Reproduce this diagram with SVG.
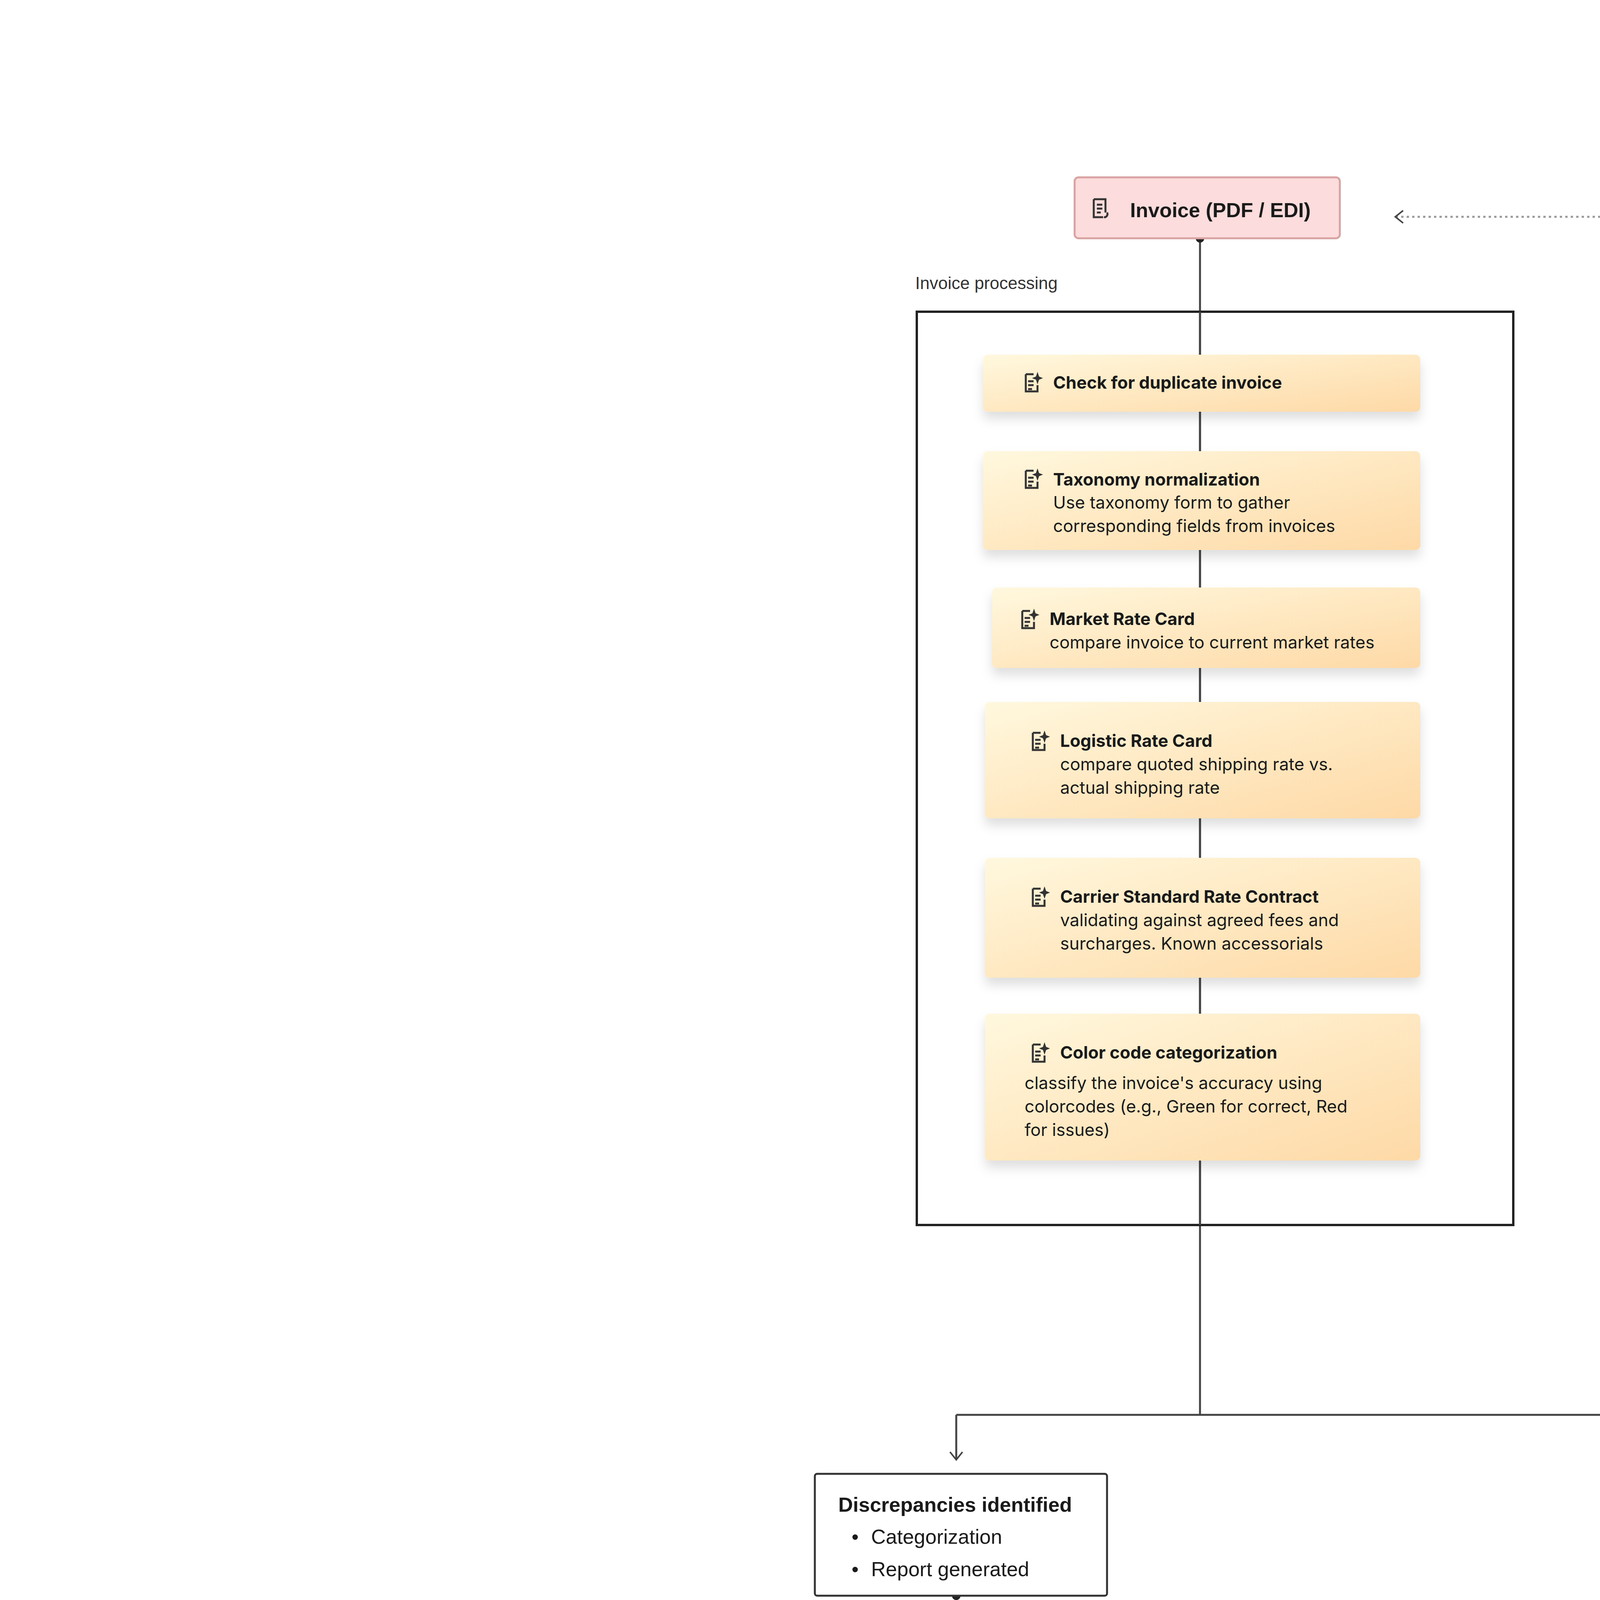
<svg xmlns="http://www.w3.org/2000/svg" width="6364" height="7184" viewBox="0 0 6364 7184">
<style>
.n{font-family:"Liberation Sans",Arial,sans-serif;font-size:52px;fill:#1a1a1a}
.c{font-family:Inter,"Liberation Sans",sans-serif;font-size:44px;fill:#1a1a1a}
.b{font-weight:bold}
.box{fill:#fff;stroke:#333;stroke-width:5}
.card{fill:url(#g);filter:url(#sh)}
.ln{fill:none;stroke:#444;stroke-width:5}
.lbl{font-family:"Liberation Sans",Arial,sans-serif;font-size:44px;fill:#333}
.ic{fill:none;stroke:#333;stroke-width:5}
</style>
<defs>
<linearGradient id="g" x1="0" y1="0" x2="1" y2="1"><stop offset="0" stop-color="#fff8de"/><stop offset="1" stop-color="#fed9a6"/></linearGradient>
<filter id="sh" x="-10%" y="-20%" width="120%" height="160%"><feDropShadow dx="0" dy="18" stdDeviation="14" flood-color="#000" flood-opacity="0.13"/></filter>
<marker id="ar" viewBox="0 0 20 20" refX="18" refY="10" markerWidth="40" markerHeight="40" markerUnits="userSpaceOnUse" orient="auto"><path d="M8 2 L18 10 L8 18" fill="none" stroke="#444" stroke-width="2"/></marker>
<marker id="dot" viewBox="0 0 10 10" refX="5" refY="5" markerWidth="22" markerHeight="22" markerUnits="userSpaceOnUse"><circle cx="5" cy="5" r="5" fill="#222"/></marker>
<g id="icon"><path class="ic" d="M0 0 h20 M0 0 v44 h30 v-16 M6 18 h14 M6 28 h14 M6 38 h10"/><path d="M30 -6 l4 12 l10 4 l-10 4 l-4 12 l-4 -12 l-10 -4 l10 -4z" fill="#333"/></g>
</defs>
<rect width="6364" height="7184" fill="#fff"/>

<g id="connectors">
<path class="ln" d="M3072 610 V3622" marker-start="url(#dot)"/>
<path class="ln" d="M2448 3622 H4484"/>
<path class="ln" d="M2448 3622 V3737" marker-end="url(#ar)"/>
<path class="ln" d="M4484 3622 V3737" marker-end="url(#ar)"/>
<path class="ln" d="M2448 4085 V4259 H1710 V4360" marker-start="url(#dot)" marker-end="url(#ar)"/>
<path class="ln" d="M2448 4259 H3246 V4360" marker-end="url(#ar)"/>
<path class="ln" d="M1710 4700 V4883" marker-start="url(#dot)" marker-end="url(#ar)"/>
<path class="ln" d="M3246 4700 V4883" marker-start="url(#dot)" marker-end="url(#ar)"/>
<path class="ln" d="M4484 4085 V4883" marker-start="url(#dot)" marker-end="url(#ar)"/>
<path class="ln" d="M1687 5176 V5360 H1371 V5442" marker-start="url(#dot)" marker-end="url(#ar)"/>
<path class="ln" d="M1742 5176 V5351 H2325 V5442" marker-start="url(#dot)" marker-end="url(#ar)"/>
<path class="ln" d="M3246 5172 V5525" marker-start="url(#dot)" marker-end="url(#ar)"/>
<path class="ln" d="M2673 5699 H2902" marker-start="url(#dot)" marker-end="url(#ar)"/>
<path class="ln" d="M3246 5855 V6034" marker-start="url(#dot)" marker-end="url(#ar)"/>
<path class="ln" d="M1371 5846 V6034" marker-start="url(#dot)" marker-end="url(#ar)"/>
<path class="ln" d="M1371 6226 V6401" marker-start="url(#dot)" marker-end="url(#ar)"/>
<path d="M3269 6465 V6625 H5846 V555 H3572" fill="none" stroke="#999" stroke-width="5" stroke-dasharray="6 8" marker-start="url(#dot)" marker-end="url(#ar)"/>
</g>

<g id="invoice-processing">
<rect x="2347" y="798" width="1527" height="2338" fill="none" stroke="#222" stroke-width="6"/>
<text class="lbl" x="2343" y="740">Invoice processing</text>
</g>
<path class="ln" d="M3072 798 V3136"/>

<g id="invoice">
<rect x="2751" y="454" width="679" height="156" rx="10" fill="#fcdcdc" stroke="#d9a3a3" stroke-width="5"/>
<path class="ic" d="M2800 510 h30 v34 M2800 510 v46 h24 M2808 524 h14 M2808 534 h14 M2808 544 h10 M2826 556 a8 8 0 0 0 8 -12"/>
<text class="n b" x="2893" y="556" font-size="56">Invoice (PDF / EDI)</text>
</g>

<g id="card1"><rect class="card" x="2517" y="908" width="1119" height="146" rx="12"/>
<use href="#icon" x="2626" y="958"/>
<text class="c b" x="2696" y="995">Check for duplicate invoice</text></g>
<g id="card2"><rect class="card" x="2517" y="1155" width="1119" height="253" rx="12"/>
<use href="#icon" x="2626" y="1205"/>
<text class="c" x="2696" y="1243"><tspan class="b">Taxonomy normalization</tspan><tspan x="2696" y="1302">Use taxonomy form to gather</tspan><tspan x="2696" y="1362">corresponding fields from invoices</tspan></text></g>
<g id="card3"><rect class="card" x="2540" y="1504" width="1096" height="206" rx="12"/>
<use href="#icon" x="2617" y="1564"/>
<text class="c" x="2687" y="1600"><tspan class="b">Market Rate Card</tspan><tspan x="2687" y="1660">compare invoice to current market rates</tspan></text></g>
<g id="card4"><rect class="card" x="2522" y="1797" width="1114" height="298" rx="12"/>
<use href="#icon" x="2644" y="1876"/>
<text class="c" x="2714" y="1912"><tspan class="b">Logistic Rate Card</tspan><tspan x="2714" y="1972">compare quoted shipping rate vs.</tspan><tspan x="2714" y="2032">actual shipping rate</tspan></text></g>
<g id="card5"><rect class="card" x="2522" y="2196" width="1114" height="307" rx="12"/>
<use href="#icon" x="2644" y="2275"/>
<text class="c" x="2714" y="2311"><tspan class="b">Carrier Standard Rate Contract</tspan><tspan x="2714" y="2371">validating against agreed fees and</tspan><tspan x="2714" y="2431">surcharges. Known accessorials</tspan></text></g>
<g id="card6"><rect class="card" x="2522" y="2595" width="1114" height="376" rx="12"/>
<use href="#icon" x="2644" y="2674"/>
<text class="c b" x="2714" y="2710">Color code categorization</text>
<text class="c" x="2623" y="2788">classify the invoice's accuracy using<tspan x="2623" y="2848">colorcodes (e.g., Green for correct, Red</tspan><tspan x="2623" y="2908">for issues)</tspan></text></g>

<g id="discrepancies"><rect class="box" x="2086" y="3773" width="748" height="312" rx="6"/>
<text class="n b" x="2146" y="3870">Discrepancies identified</text>
<text class="n" x="2180" y="3952">•</text><text class="n" x="2230" y="3952">Categorization</text>
<text class="n" x="2180" y="4035">•</text><text class="n" x="2230" y="4035">Report generated</text></g>

<g id="no-discrepancies"><rect class="box" x="4163" y="3773" width="637" height="312" rx="6"/>
<text class="n" x="4209" y="3870">No discrepancies, or<tspan x="4209" y="3952">discrepancies within</tspan><tspan x="4209" y="4035">an agreed tolerance</tspan></text></g>

<g id="unknown"><rect class="box" x="1238" y="4383" width="940" height="317" rx="6"/>
<text class="n" x="1284" y="4484"><tspan class="b">Unknown discrepancy:</tspan><tspan x="1284" y="4567">Carrier fixes or workspace/agent</tspan><tspan x="1284" y="4645">improvements (processing issue)</tspan></text></g>

<g id="carrier-specific"><rect class="box" x="2774" y="4383" width="949" height="317" rx="6"/>
<text class="n" x="2815" y="4525"><tspan class="b">Carrier specific discrepancy</tspan>:<tspan x="2815" y="4603">Carrier to take action and resubmit</tspan></text></g>

<g id="active-invoices">
<rect x="1243" y="4901" width="3649" height="390" rx="8" fill="#f4f4f4" stroke="#444" stroke-width="5"/>
<text class="lbl" x="1220" y="4970" text-anchor="end">[Active Invoices]</text>
</g>
<g id="review"><rect class="box" x="1421" y="5025" width="573" height="151" rx="6"/>
<text class="n" x="1707" y="5121" text-anchor="middle">Invoices to <tspan class="b">REVIEW</tspan></text></g>
<g id="return"><rect class="box" x="2953" y="5021" width="591" height="151" rx="6"/>
<text class="n" x="3248" y="5117" text-anchor="middle">Invoices to <tspan class="b">RETURN</tspan></text></g>
<g id="pay"><rect class="box" x="4223" y="4984" width="532" height="197" rx="6"/>
<text class="n" x="4489" y="5103" text-anchor="middle">Invoices to <tspan class="b">PAY</tspan></text></g>

<g id="review-actions">
<rect x="701" y="5461" width="2018" height="463" rx="8" fill="#f4f4f4" stroke="#444" stroke-width="5"/>
</g>
<g id="fix-box"><rect class="box" x="802" y="5534" width="1202" height="312" rx="6"/>
<text class="n" x="870" y="5635">•</text><text class="n" x="922" y="5635"><tspan class="b">fix</tspan> (mapping / data missing, etc.)</text>
<text class="n" x="870" y="5713">•</text><text class="n" x="922" y="5713">Clarity of instruction (for carrier)</text>
<text class="n" x="870" y="5795">•</text><text class="n" x="922" y="5795"><tspan class="b">approve</tspan>, <tspan class="b">over-ride</tspan> invoice(s) discrepancy</text></g>
<g id="kickback"><rect class="box" x="2063" y="5617" width="610" height="155" rx="6"/>
<text class="n" x="2104" y="5717"><tspan class="b">Kick-back</tspan> to carrier</text></g>

<g id="summary"><rect class="box" x="2939" y="5539" width="614" height="316" rx="6"/>
<text class="n" x="2980" y="5644">summary of<tspan x="2980" y="5722">discrepancies and</tspan><tspan x="2980" y="5804">invoice(s)</tspan></text></g>

<g id="carrier-action"><rect class="box" x="2834" y="6070" width="829" height="395" rx="6"/>
<text class="n" x="2861" y="6171">Carrier to take action and<tspan x="2861" y="6249">resubmit invoice</tspan><tspan x="2861" y="6331">(for processing)</tspan></text></g>

<g id="resolved"><rect class="box" x="1073" y="6070" width="587" height="156" rx="6"/>
<text class="n" x="1366" y="6167" text-anchor="middle">Discrepancy resolved</text></g>
<g id="pay-invoice"><rect class="box" x="1073" y="6419" width="587" height="156" rx="6"/>
<text class="n" x="1366" y="6516" text-anchor="middle">Pay invoice</text></g>
</svg>
